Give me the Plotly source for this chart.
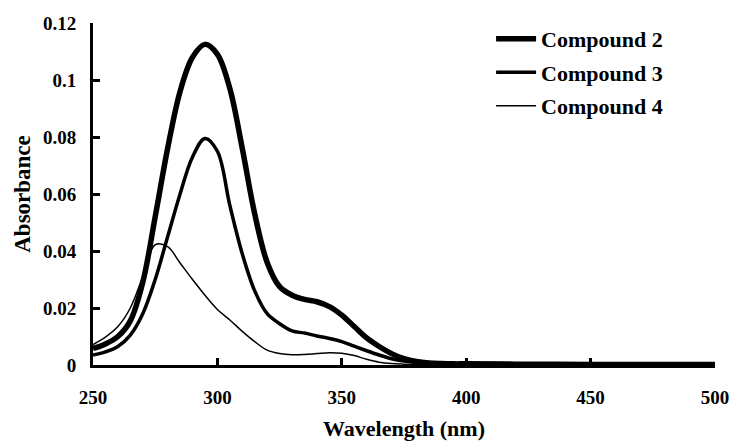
import plotly.graph_objects as go

wavelength = [250, 255, 260, 265, 270, 275, 280, 285, 290, 295, 300, 305, 310, 315, 320,
              325, 330, 335, 340, 345, 350, 355, 360, 365, 370, 375, 380, 385, 390, 395,
              400, 420, 450, 475, 500]

compound2 = [0.0058, 0.0074, 0.0100, 0.0155, 0.029, 0.052, 0.076, 0.096, 0.108, 0.1125, 0.109,
             0.097, 0.076, 0.053, 0.036, 0.0275, 0.0245, 0.023, 0.0222, 0.0205, 0.0175, 0.0135,
             0.0095, 0.0065, 0.004, 0.0022, 0.0012, 0.0007, 0.0005, 0.0004, 0.0004, 0.0003,
             0.0002, 0.0002, 0.0002]

compound3 = [0.0035, 0.0046, 0.0065, 0.0105, 0.018, 0.030, 0.045, 0.060, 0.073, 0.0795, 0.075,
             0.056, 0.039, 0.026, 0.018, 0.0145, 0.012, 0.0112, 0.0102, 0.0093, 0.0082, 0.0066,
             0.005, 0.0035, 0.0022, 0.0014, 0.0009, 0.0006, 0.0004, 0.0003, 0.0003, 0.0002,
             0.0002, 0.0002, 0.0002]

compound4 = [0.0072, 0.0098, 0.0135, 0.020, 0.031, 0.0422, 0.0415, 0.0358, 0.030, 0.0245, 0.0195,
             0.0158, 0.0118, 0.0082, 0.0052, 0.0040, 0.0036, 0.0037, 0.004, 0.0043, 0.0041, 0.0033,
             0.002, 0.001, 0.0005, 0.0003, 0.0002, 0.0002, 0.0002, 0.0002, 0.0002, 0.0002,
             0.0002, 0.0002, 0.0002]

series_names = ["Compound 2", "Compound 3", "Compound 4"]
series_values = [compound2, compound3, compound4]
series_widths = [5.5, 3.5, 1.5]

x_ticks = [250, 300, 350, 400, 450, 500]
y_ticks = [0, 0.02, 0.04, 0.06, 0.08, 0.1, 0.12]
y_tick_labels = ["0", "0.02", "0.04", "0.06", "0.08", "0.1", "0.12"]

FONT = "Liberation Serif"

fig = go.Figure()
for name, vals, w in zip(series_names, series_values, series_widths):
    fig.add_trace(go.Scatter(
        x=wavelength, y=vals, mode="lines", name=name, legendgroup=name,
        line=dict(color="black", width=w, shape="spline", smoothing=1.0),
    ))

fig.update_layout(
    width=731, height=441,
    margin=dict(l=93, r=16, t=23, b=76),
    paper_bgcolor="white", plot_bgcolor="white",
    font=dict(family=FONT, size=19, color="black"),
    showlegend=True,
    legend=dict(
        x=0.64, y=1.015, xanchor="left", yanchor="top",
        bgcolor="rgba(0,0,0,0)",
        font=dict(family=FONT, size=22, color="black", weight="bold"),
        tracegroupgap=2, itemwidth=40,
    ),
    xaxis=dict(
        range=[250, 500], tickvals=x_ticks, ticktext=[str(v) for v in x_ticks],
        showgrid=False, zeroline=False, showline=True, linecolor="black", linewidth=3,
        ticks="inside", ticklen=7, tickwidth=3, tickcolor="black",
        tickfont=dict(family=FONT, size=19, weight="bold"),
        ticklabelstandoff=13, automargin=False,
        title=dict(text="<b>Wavelength (nm)</b>", font=dict(family=FONT, size=22), standoff=15),
    ),
    yaxis=dict(
        range=[0, 0.12], tickvals=y_ticks, ticktext=y_tick_labels,
        showgrid=False, zeroline=False, showline=True, linecolor="black", linewidth=3,
        ticks="inside", ticklen=7, tickwidth=3, tickcolor="black",
        tickfont=dict(family=FONT, size=19, weight="bold"),
        ticklabelstandoff=10, automargin=False,
        title=dict(text="<b>Absorbance</b>", font=dict(family=FONT, size=23), standoff=6),
    ),
)

fig.write_html("out.html", config={"displayModeBar": False},
               post_script="document.body.style.margin='0';")
